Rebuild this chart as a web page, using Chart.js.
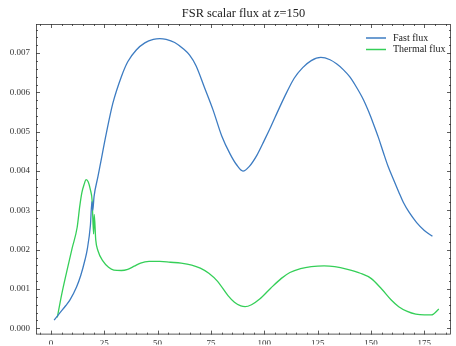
<!DOCTYPE html>
<html>
<head>
<meta charset="utf-8">
<script src="https://cdn.jsdelivr.net/npm/chart.js@4.4.0/dist/chart.umd.min.js"></script>
<style>
  html, body { margin: 0; padding: 0; background: #fff; }
  #wrap { width: 456px; height: 346px; }
</style>
</head>
<body>
<div id="wrap"><canvas id="flux"></canvas></div>
<script>
/* --------------- Data --------------------------------------- */
const titleText = 'FSR scalar flux at z=150';
const seriesNames = ['Fast flux', 'Thermal flux'];
const seriesColors = ['#3d7cc2', '#35cf58'];

const fastX = [1.5, 4, 7, 9, 12, 14, 16, 17, 18.5, 19.2, 19.6, 20.2, 22, 23, 26, 29, 33, 36, 40, 44, 48, 51, 54, 58, 62, 65, 68, 72, 76, 80, 84, 87, 90, 93, 96.5, 100, 103, 107, 110.5, 114, 118, 122, 126.5, 130.8, 134, 137, 140, 143, 146.4, 149, 151, 153.5, 155.8, 158, 160.5, 163, 165.2, 168, 171.4, 175, 178.8];
const fastY = [0.00021, 0.00038, 0.00058, 0.00073, 0.00105, 0.00135, 0.00175, 0.00200, 0.00262, 0.00322, 0.00300, 0.00335, 0.00385, 0.00413, 0.00497, 0.00572, 0.00640, 0.00678, 0.00708, 0.00726, 0.00735, 0.00737, 0.00735, 0.00727, 0.00711, 0.00695, 0.00668, 0.00612, 0.00555, 0.00490, 0.00443, 0.00416, 0.00400, 0.00412, 0.00440, 0.00478, 0.00512, 0.00560, 0.00600, 0.00636, 0.00663, 0.00681, 0.00689, 0.00683, 0.00672, 0.00658, 0.00640, 0.00615, 0.00582, 0.00550, 0.00522, 0.00485, 0.00447, 0.00412, 0.00379, 0.00347, 0.00320, 0.00294, 0.00269, 0.00249, 0.00234];

const thermalX = [3, 5, 7.4, 10, 12.3, 13.5, 14.5, 15.5, 16.5, 17.5, 18.5, 19.3, 20, 20.3, 21, 22, 24.5, 27, 29.5, 33, 36, 39, 42, 46, 51, 56, 61, 66, 70, 74, 78, 83, 86, 89, 91, 94, 98, 103, 108, 112, 117, 122, 128, 133, 139, 145, 150, 155, 159.5, 163, 167, 171, 175, 178.3, 181.8];
const thermalY = [0.00028, 0.00085, 0.00144, 0.00205, 0.00257, 0.00310, 0.00345, 0.00365, 0.00378, 0.00372, 0.00352, 0.00325, 0.00240, 0.00290, 0.00225, 0.00198, 0.00170, 0.00155, 0.00148, 0.00147, 0.00150, 0.00158, 0.00166, 0.00170, 0.00170, 0.00168, 0.00166, 0.00161, 0.00153, 0.00140, 0.00120, 0.00083, 0.00066, 0.00057, 0.00055, 0.00060, 0.00075, 0.00102, 0.00127, 0.00142, 0.00152, 0.00157, 0.00159, 0.00157, 0.00150, 0.00140, 0.00127, 0.00100, 0.00072, 0.00055, 0.00043, 0.00036, 0.00034, 0.00034, 0.00049];

const xRange = [-7, 187.5];
const yRange = [-0.00016, 0.00774];
const xStep = 25, xMinor = 5;
const yStep = 0.001, yMinor = 0.0002;

const serif = "'Liberation Serif', 'DejaVu Serif', serif";
const toPoints = (xs, ys) => xs.map((x, i) => ({ x: x, y: ys[i] }));

/* --------------- Inward ticks, frame, title, legend --------------------- */
const sciStyle = {
  id: 'sciStyle',
  afterDraw(chart) {
    const ctx = chart.ctx;
    const a = chart.chartArea;
    const xs = chart.scales.x, ys = chart.scales.y;
    ctx.save();
    ctx.strokeStyle = '#333';
    ctx.lineWidth = 0.8;
    ctx.strokeRect(a.left + 0.5, a.top + 0.5, a.right - a.left - 1, a.bottom - a.top - 1);

    ctx.beginPath();
    // x ticks (bottom and top)
    for (let v = Math.ceil(xRange[0] / xMinor) * xMinor; v <= xRange[1]; v += xMinor) {
      const px = Math.round(xs.getPixelForValue(v)) + 0.5;
      const len = (v % xStep === 0) ? 4 : 2;
      ctx.moveTo(px, a.bottom); ctx.lineTo(px, a.bottom - len);
      ctx.moveTo(px, a.top); ctx.lineTo(px, a.top + len);
    }
    // y ticks (left and right)
    for (let k = Math.ceil(yRange[0] / yMinor); k * yMinor <= yRange[1]; k++) {
      const py = Math.round(ys.getPixelForValue(k * yMinor)) + 0.5;
      const len = (k % 5 === 0) ? 4 : 2;
      ctx.moveTo(a.left, py); ctx.lineTo(a.left + len, py);
      ctx.moveTo(a.right, py); ctx.lineTo(a.right - len, py);
    }
    ctx.stroke();

    // title centred on the plot area
    ctx.fillStyle = '#222';
    ctx.font = '12.4px ' + serif;
    ctx.textAlign = 'center';
    ctx.textBaseline = 'alphabetic';
    ctx.fillText(titleText, (a.left + a.right) / 2, a.top - 7);

    // legend, top right inside the axes
    ctx.font = '10px ' + serif;
    ctx.textAlign = 'left';
    ctx.textBaseline = 'middle';
    chart.data.datasets.forEach((ds, i) => {
      const y = a.top + 14 + i * 11.5;
      const x0 = a.right - 85;
      ctx.strokeStyle = ds.borderColor;
      ctx.lineWidth = 1.5;
      ctx.beginPath();
      ctx.moveTo(x0, y); ctx.lineTo(x0 + 20, y);
      ctx.stroke();
      ctx.fillText(ds.label, x0 + 27, y);
    });
    ctx.restore();
  }
};

new Chart(document.getElementById('flux'), {
  type: 'line',
  plugins: [sciStyle],
  data: {
    datasets: [
      { label: seriesNames[0], data: toPoints(fastX, fastY), borderColor: seriesColors[0] },
      { label: seriesNames[1], data: toPoints(thermalX, thermalY), borderColor: seriesColors[1] },
    ],
  },
  options: {
    responsive: true,
    maintainAspectRatio: false,
    animation: false,
    layout: { padding: { top: 24, right: 5, left: 0, bottom: 0 } },
    elements: {
      point: { radius: 0 },
      line: { borderWidth: 1.3, cubicInterpolationMode: 'monotone', fill: false },
    },
    plugins: {
      legend: { display: false },
      tooltip: { enabled: false },
      title: { display: false },
    },
    scales: {
      x: {
        type: 'linear',
        min: xRange[0],
        max: xRange[1],
        grid: { display: false, drawTicks: false },
        border: { display: false },
        ticks: { stepSize: xStep, includeBounds: false, padding: 4, maxRotation: 0, color: '#333', font: { family: serif, size: 9 } },
        afterFit: (s) => { s.height = 10; },
      },
      y: {
        min: yRange[0],
        max: yRange[1],
        grid: { display: false, drawTicks: false },
        border: { display: false },
        ticks: {
          stepSize: yStep,
          includeBounds: false,
          padding: 6,
          color: '#333',
          font: { family: serif, size: 9 },
          callback: (v) => v.toFixed(3),
        },
        afterFit: (s) => { s.width = 36; },
      },
    },
  },
});
</script>
</body>
</html>
